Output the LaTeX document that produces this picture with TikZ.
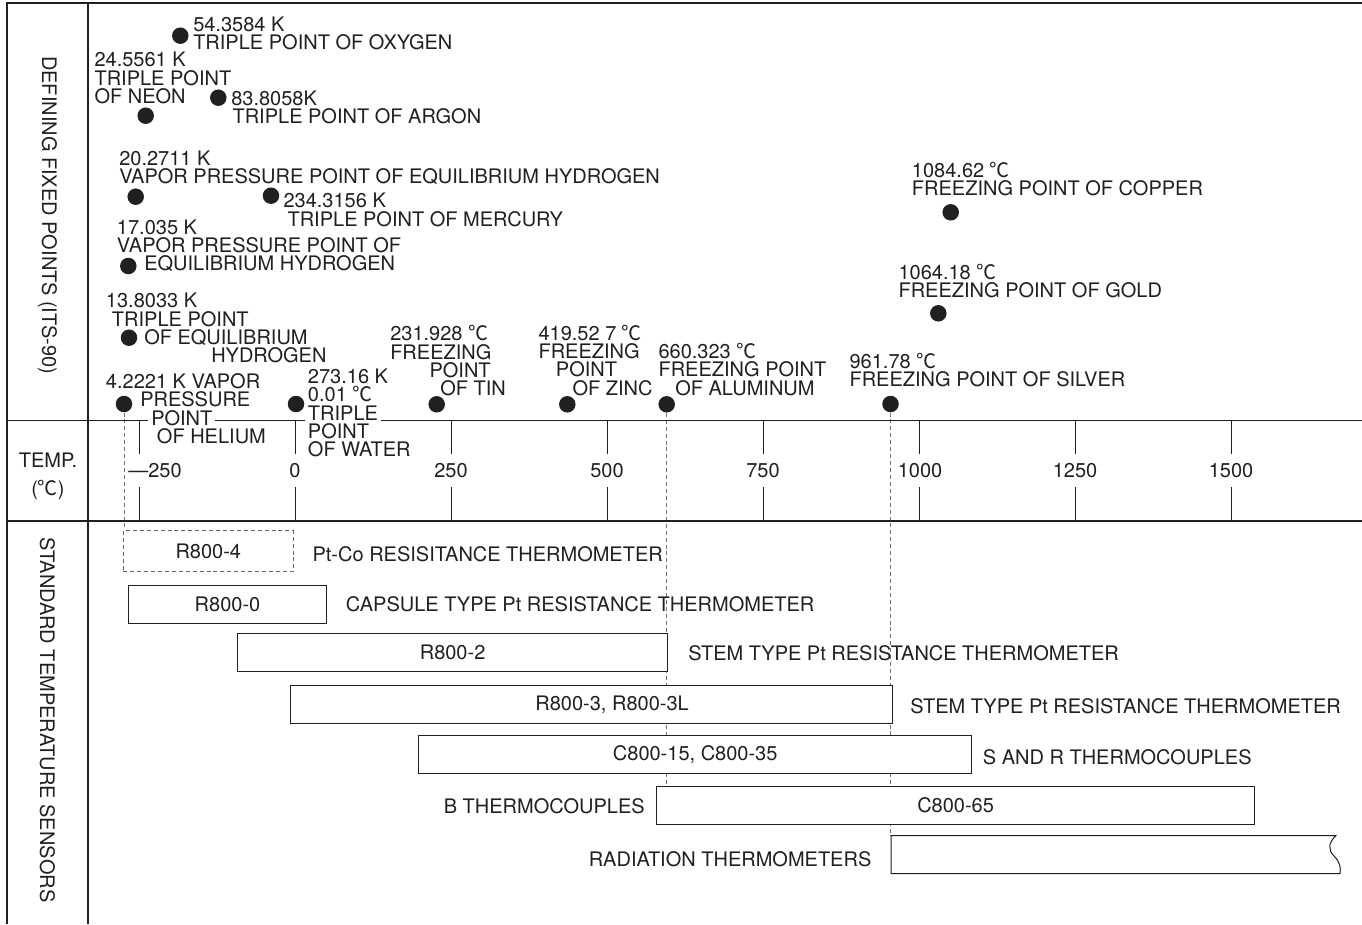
\documentclass[tikz,border=0pt]{standalone}
\usepackage{fontspec}
\setmainfont{TeX Gyre Heros}
\newfontfamily\degfont{Noto Sans CJK JP}
\newcommand\degc{{\degfont ℃}}
\newlength\pxu
\setlength\pxu{0.75pt}
\newcommand\ind[1]{\hspace*{#1\pxu}}
\usetikzlibrary{backgrounds}
\definecolor{ink}{rgb}{0.13,0.12,0.12}

\begin{document}
\begin{tikzpicture}[x=0.75pt, y=-0.75pt, color=ink, fp/.style={circle, fill=ink, inner sep=0pt, minimum size=16.5\pxu}, fpl/.style={anchor=base west, align=left, inner sep=0pt, font=\fontsize{15}{13.7}\selectfont}, txt/.style={inner sep=0pt, font=\fontsize{15}{13.7}\selectfont}, sid/.style={txt, rotate=-90}, bx/.style={draw, fill=white, line width=0.75pt, minimum height=38\pxu, inner sep=0pt, font=\fontsize{15}{13.7}\selectfont}, dbx/.style={bx, draw=black!60, dash pattern=on 3pt off 2.2pt}, dsh/.style={draw=black!55, line width=0.75pt, dash pattern=on 3pt off 2.2pt}]
\useasboundingbox (0,0) rectangle (1362,924);

% frame
\draw[line width=1pt] (7,924) -- (7,3) -- (1362,3);
\draw[line width=1pt] (88,3) -- (88,924);
\draw[line width=1pt] (7,521) -- (1362,521);
\draw[line width=1pt] (7,420.5) -- (148,420.5) (214.5,420.5) -- (305,420.5) (381,420.5) -- (1362,420.5);

% side titles
\node[sid] (fixd) at (47.5,215) {DEFINING FIXED POINTS (ITS-90)};
\node[txt] (temp) at (48,460) {TEMP.};
\node[txt] (unit) at (48,490) {(\degc)};
\node[sid] (sens) at (47.5,720) {STANDARD TEMPERATURE SENSORS};

% temperature scale
\draw[line width=0.75pt] (139,420.5) -- (139,454) (139,487) -- (139,521) (295,420.5) -- (295,454) (295,487) -- (295,521) (451,420.5) -- (451,454) (451,487) -- (451,521) (607,420.5) -- (607,454) (607,487) -- (607,521) (763,420.5) -- (763,454) (763,487) -- (763,521) (919,420.5) -- (919,454) (919,487) -- (919,521) (1075,420.5) -- (1075,454) (1075,487) -- (1075,521) (1231,420.5) -- (1231,454) (1231,487) -- (1231,521);
\node[txt, anchor=west] (tm250) at (128,470.5) {—250};
\node[txt] (t0) at (295,470.5) {0};
\node[txt] (t250) at (451,470.5) {250};
\node[txt] (t500) at (607,470.5) {500};
\node[txt] (t750) at (763,470.5) {750};
\node[txt] (t1000) at (920,470.5) {1000};
\node[txt] (t1250) at (1075,470.5) {1250};
\node[txt] (t1500) at (1231,470.5) {1500};

% defining fixed points (label placed by its last line)
\node[fpl] (oxl) at (193,49.5) {54.3584 K\\TRIPLE POINT OF OXYGEN};
\node[fp] (ox) at (180.3,35.7) {};
\node[fpl] (nel) at (94.3,103.3) {24.5561 K\\TRIPLE POINT\\OF NEON};
\node[fp] (ne) at (145.7,115.7) {};
\node[fpl] (arl) at (231,123.3) {83.8058K\\\ind{1.3}TRIPLE POINT OF ARGON};
\node[fp] (ar) at (218.3,97.7) {};
\node[fpl] (hvl) at (119,183.3) {20.2711 K\\VAPOR PRESSURE POINT OF EQUILIBRIUM HYDROGEN};
\node[fp] (hv) at (135.7,196.7) {};
\node[fpl] (hgl) at (283.3,226) {234.3156 K\\\ind{4}TRIPLE POINT OF MERCURY};
\node[fp] (hg) at (271,195.7) {};
\node[fpl] (hwl) at (116.7,270.7) {17.035 K\\VAPOR PRESSURE POINT OF\\\ind{27.3}EQUILIBRIUM HYDROGEN};
\node[fp] (hw) at (128.3,266) {};
\node[fpl] (hpl) at (105.7,362.7) {13.8033 K\\\ind{6}TRIPLE POINT\\\ind{38.3}OF EQUILIBRIUM\\\ind{105.3}HYDROGEN};
\node[fp] (hp) at (129,337.7) {};
\node[fpl] (hel) at (105.7,443.3) {4.2221 K VAPOR\\\ind{34.3}PRESSURE\\\ind{45.3}POINT\\\ind{51}OF HELIUM};
\node[fp] (he) at (124,404) {};
\node[fpl] (watl) at (307.7,456.7) {273.16 K\\0.01 \degc\\TRIPLE\\POINT\\OF WATER};
\node[fp] (wat) at (296,404) {};
\node[fpl] (snl) at (390,395.7) {231.928 \degc\\FREEZING\\\ind{39.3}POINT\\\ind{50}OF TIN};
\node[fp] (sn) at (436.7,404.3) {};
\node[fpl] (znl) at (538.3,395) {419.52 7 \degc\\FREEZING\\\ind{17.4}POINT\\\ind{34}OF ZINC};
\node[fp] (zn) at (567.3,404.3) {};
\node[fpl] (all) at (658.3,395) {660.323 \degc\\FREEZING POINT\\\ind{16.7}OF ALUMINUM};
\node[fp] (al) at (666.7,404.3) {};
\node[fpl] (agl) at (849.3,386.7) {961.78 \degc\\FREEZING POINT OF SILVER};
\node[fp] (ag) at (890.5,404) {};
\node[fpl] (aul) at (898.3,297.3) {1064.18 \degc\\FREEZING POINT OF GOLD};
\node[fp] (au) at (938.3,313.3) {};
\node[fpl] (cul) at (911.7,195.7) {1084.62 \degc\\FREEZING POINT OF COPPER};
\node[fp] (cu) at (950.7,212.3) {};

% standard sensors
\node[dbx, minimum width=170\pxu, minimum height=41\pxu] (r4) at (208.3,551.2) {R800-4};
\node[txt, anchor=west] (r4l) at (312.3,554) {Pt-Co RESISITANCE THERMOMETER};
\node[bx, minimum width=198.4\pxu] (r0) at (227.5,604.5) {R800-0};
\node[txt, anchor=west] (r0l) at (345.7,604.5) {CAPSULE TYPE Pt RESISTANCE THERMOMETER};
\node[bx, minimum width=430.7\pxu] (r2) at (452.6,652.8) {R800-2};
\node[txt, anchor=west] (r2l) at (688,653.3) {STEM TYPE Pt RESISTANCE THERMOMETER};
\node[bx, minimum width=601.8\pxu] (r3) at (591.6,704.2) {\ind{41}R800-3, R800-3L};
\node[txt, anchor=west] (r3l) at (910,706) {STEM TYPE Pt RESISTANCE THERMOMETER};
\node[bx, minimum width=552.5\pxu] (c15) at (695.2,754.5) {C800-15, C800-35};
\node[txt, anchor=west] (c15l) at (982.6,756.7) {S AND R THERMOCOUPLES};
\node[bx, minimum width=597.8\pxu] (c65) at (955.6,805.5) {C800-65};
\node[txt, anchor=east] (c65l) at (645,806) {B THERMOCOUPLES};
\draw[fill=white, line width=0.75pt] (891,835.5) coordinate (rad) -- (1336,835.5) .. controls (1328,843) and (1328,850) .. (1334,856) .. controls (1340,862) and (1341,868) .. (1340,873.5) -- (891,873.5) -- cycle;
\node[txt, anchor=east] (radl) at (871.6,859.3) {RADIATION THERMOMETERS};

% limits
\begin{scope}[on background layer]
\draw[dsh] (he) -- (he |- r4.north);
\draw[dsh] (al) -- (al |- c65.north);
\draw[dsh] (ag) -- (ag |- rad);
\end{scope}
\end{tikzpicture}
\end{document}
